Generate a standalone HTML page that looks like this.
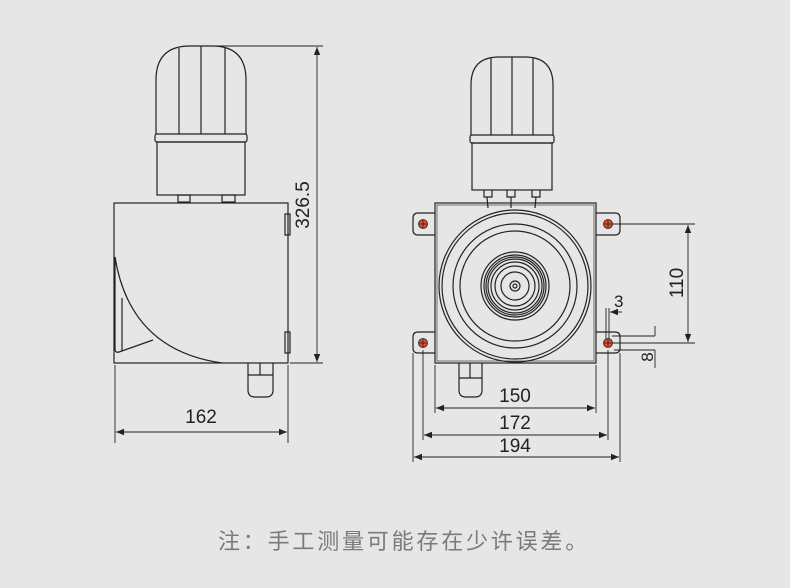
<!DOCTYPE html>
<html><head><meta charset="utf-8"><style>
html,body{margin:0;padding:0;background:#e6e6e6;}
svg{display:block}
text{font-family:"Liberation Sans","Noto Sans CJK SC",sans-serif;}
</style></head><body>
<svg width="790" height="588" viewBox="0 0 790 588" xmlns="http://www.w3.org/2000/svg">
<defs>
<marker id="a" viewBox="0 0 10 10" refX="10" refY="5" markerWidth="8" markerHeight="8" orient="auto-start-reverse" markerUnits="userSpaceOnUse"><path d="M0,1 L10,5 L0,9 z" fill="#222"/></marker>
</defs>
<rect width="790" height="588" fill="#e6e6e6"/>
<g fill="none" stroke="#222" stroke-width="1.2">
<path d="M156,134 L156,80 Q156,46 190,46 L212,46 Q246,46 246,80 L246,134"/>
<line x1="179" y1="48" x2="179" y2="134"/><line x1="201" y1="46" x2="201" y2="134"/><line x1="225" y1="48" x2="225" y2="134"/>
<rect x="155" y="134" width="92" height="8" rx="2"/>
<rect x="157" y="142" width="88" height="53"/>
<rect x="178" y="195" width="12" height="7"/><rect x="222" y="195" width="13" height="7"/>
<rect x="114" y="203" width="174" height="160"/>
<path d="M115,257 Q130,350 222,363"/>
<path d="M115,257 L115,350 Q116,353 119,352 L153,340"/>
<line x1="122" y1="298" x2="122" y2="351"/>
<rect x="285" y="214" width="5" height="21"/><rect x="285" y="332" width="5" height="21"/>
<path d="M248,363 L248,390 Q248,397 255,397 L266,397 Q273,397 273,390 L273,363"/>
<line x1="248" y1="375" x2="273" y2="375"/><line x1="260" y1="363" x2="260" y2="375"/>
<g stroke-width="0.9">
<line x1="205" y1="46" x2="323" y2="46"/><line x1="290" y1="363" x2="323" y2="363"/>
<line x1="317" y1="47" x2="317" y2="362" marker-start="url(#a)" marker-end="url(#a)"/>
<line x1="115" y1="365" x2="115" y2="443"/><line x1="288" y1="365" x2="288" y2="443"/>
<line x1="116" y1="432" x2="287" y2="432" marker-start="url(#a)" marker-end="url(#a)"/>
</g>
<path d="M471,135 L471,85 Q471,57 499,57 L525,57 Q553,57 553,85 L553,135"/>
<line x1="491" y1="57" x2="491" y2="135"/><line x1="512" y1="57" x2="512" y2="135"/><line x1="533" y1="57" x2="533" y2="135"/>
<rect x="470" y="135" width="84" height="8" rx="2"/>
<rect x="472" y="143" width="80" height="47"/>
<path d="M484,190 L484,197 L492,197 L492,190 M487,197 L488,208 M507,190 L507,197 L515,197 L515,190 M511,197 L511,208 M532,190 L532,197 L540,197 L540,190 M536,197 L535,208"/>
<rect x="435" y="203" width="161" height="160"/>
<rect x="437" y="205" width="157" height="156" stroke-width="0.6"/>
<path d="M435,213 L418,213 Q413,213 413,218 L413,230 Q413,235 418,235 L435,235"/>
<path d="M596,213 L615,213 Q620,213 620,218 L620,230 Q620,235 615,235 L596,235"/>
<path d="M435,332 L418,332 Q413,332 413,337 L413,348 Q413,353 418,353 L435,353"/>
<path d="M596,332 L615,332 Q620,332 620,337 L620,348 Q620,353 615,353 L596,353"/>
<circle cx="515" cy="286" r="76"/><circle cx="515" cy="286" r="73"/>
<circle cx="515" cy="286" r="62"/><circle cx="515" cy="286" r="55"/>
<circle cx="515" cy="286" r="34"/><circle cx="515" cy="286" r="31"/><circle cx="515" cy="286" r="29"/>
<circle cx="515" cy="286" r="27"/><circle cx="515" cy="286" r="24"/><circle cx="515" cy="286" r="20"/>
<circle cx="515" cy="286" r="14"/><circle cx="515" cy="286" r="5"/><circle cx="515" cy="286" r="2"/>
<path d="M459,363 L459,390 Q459,397 466,397 L475,397 Q482,397 482,390 L482,363"/>
<line x1="470" y1="363" x2="470" y2="378"/><line x1="459" y1="378" x2="482" y2="378"/>
<g stroke-width="0.9">
<line x1="612" y1="224" x2="695" y2="224"/><line x1="612" y1="343" x2="695" y2="343"/>
<line x1="688" y1="225" x2="688" y2="342" marker-start="url(#a)" marker-end="url(#a)"/>
<line x1="606" y1="308" x2="606" y2="345"/><line x1="609" y1="308" x2="609" y2="345"/>
<line x1="622" y1="312" x2="610" y2="312" marker-end="url(#a)"/>
<line x1="612" y1="336" x2="655" y2="336"/><line x1="614" y1="350" x2="655" y2="350"/>
<line x1="655" y1="326" x2="655" y2="336"/><line x1="655" y1="350" x2="655" y2="368"/>
<line x1="435" y1="365" x2="435" y2="413"/><line x1="596" y1="365" x2="596" y2="413"/>
<line x1="423" y1="350" x2="423" y2="440"/><line x1="608" y1="350" x2="608" y2="440"/>
<line x1="413" y1="353" x2="413" y2="462"/><line x1="620" y1="353" x2="620" y2="462"/>
<line x1="436" y1="408" x2="595" y2="408" marker-start="url(#a)" marker-end="url(#a)"/>
<line x1="424" y1="435" x2="607" y2="435" marker-start="url(#a)" marker-end="url(#a)"/>
<line x1="414" y1="457" x2="619" y2="457" marker-start="url(#a)" marker-end="url(#a)"/>
</g>
</g>
<g stroke="#222" stroke-width="0.8">
<circle cx="423" cy="224" r="4.5" fill="#e84a2a"/><circle cx="608" cy="224" r="4.5" fill="#e84a2a"/>
<circle cx="423" cy="343" r="4.5" fill="#e84a2a"/><circle cx="608" cy="343" r="4.5" fill="#e84a2a"/>
<path d="M418.5,224 h9 M423,219.5 v9 M603.5,224 h9 M608,219.5 v9 M418.5,343 h9 M423,338.5 v9 M603.5,343 h9 M608,338.5 v9"/>
</g>
<g fill="#222" font-size="19">
<text x="201" y="423" text-anchor="middle">162</text>
<text transform="translate(309,205) rotate(-90)" text-anchor="middle">326.5</text>
<text transform="translate(683,283) rotate(-90)" text-anchor="middle">110</text>
<text x="515" y="402" text-anchor="middle">150</text>
<text x="515" y="429" text-anchor="middle">172</text>
<text x="515" y="452" text-anchor="middle">194</text>
<text x="614" y="307" font-size="17">3</text>
<text transform="translate(653,357) rotate(-90)" text-anchor="middle" font-size="17">8</text>
</g>
<text x="218" y="549" font-size="22" fill="#7a7a7a" letter-spacing="2.8">注：手工测量可能存在少许误差。</text>
</svg>
</body></html>
